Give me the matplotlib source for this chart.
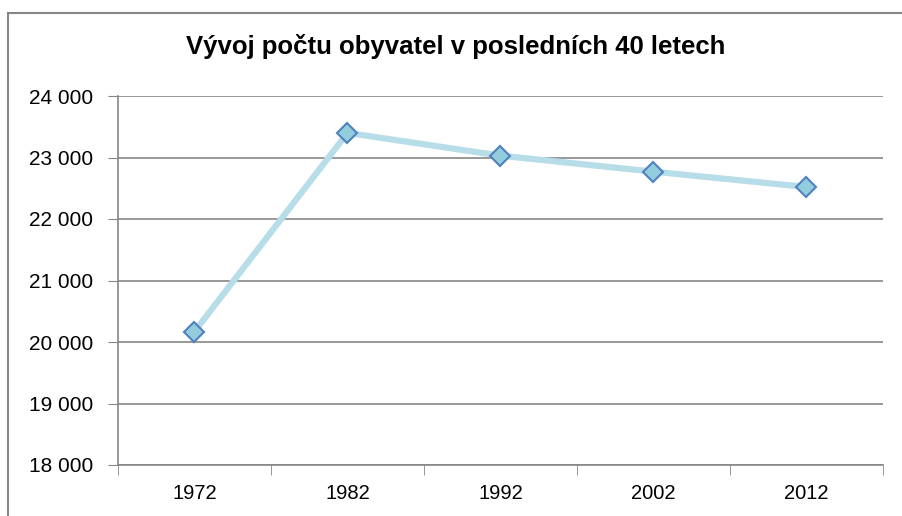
import matplotlib.pyplot as plt
from matplotlib.lines import Line2D

# data
years = ['1972', '1982', '1992', '2002', '2012']
population = [20170, 23400, 23030, 22770, 22520]
y_ticks = [18000, 19000, 20000, 21000, 22000, 23000, 24000]

plt.rcParams['font.family'] = ['Liberation Sans', 'DejaVu Sans']

W, H = 903, 516
fig = plt.figure(figsize=(W / 100, H / 100), dpi=100)
fig.patch.set_facecolor('white')

# outer frame (cut off at right and bottom, like the screenshot)
fig.add_artist(Line2D([8 / W, 1.0], [1 - 13 / H, 1 - 13 / H], transform=fig.transFigure,
                      color='#868686', lw=1.5))
fig.add_artist(Line2D([8 / W, 8 / W], [0.0, 1 - 13 / H], transform=fig.transFigure,
                      color='#868686', lw=1.5))

left, right, top, bottom = 118, 883, 96, 465
ax = fig.add_axes([left / W, 1 - bottom / H, (right - left) / W, (bottom - top) / H])

x = list(range(len(years)))
ax.plot(x, population, color='#b7dde8', lw=4.5, zorder=3,
        marker='D', markersize=10, markerfacecolor='#93cddd',
        markeredgecolor='#4f81bd', markeredgewidth=1.5)

ax.set_xlim(-0.5, len(years) - 0.5)
ax.set_ylim(18000, 24000)
ax.set_yticks(y_ticks)
ax.set_yticklabels([f'{v // 1000} {v % 1000:03d}' for v in y_ticks], fontsize=15)
ax.set_xticks(x)
ax.set_xticklabels(years, fontsize=14.5)
ax.set_xticks([i - 0.5 for i in range(len(years) + 1)], minor=True)
ax.tick_params(axis='x', which='major', length=0, pad=14)
ax.tick_params(axis='x', which='minor', length=7, color='#868686', direction='out')
ax.tick_params(axis='y', length=7, color='#868686', direction='out', pad=11)

ax.yaxis.grid(True, color='#868686', lw=1.2)
ax.set_axisbelow(True)
for s in ['top', 'right']:
    ax.spines[s].set_visible(False)
for s in ['left', 'bottom']:
    ax.spines[s].set_color('#868686')
    ax.spines[s].set_linewidth(1.2)

fig.text(456 / W, 1 - 47 / H, 'Vývoj počtu obyvatel v posledních 40 letech',
         ha='center', va='center', fontsize=18.5, fontweight='bold')

fig.savefig('out.png', dpi=100)
